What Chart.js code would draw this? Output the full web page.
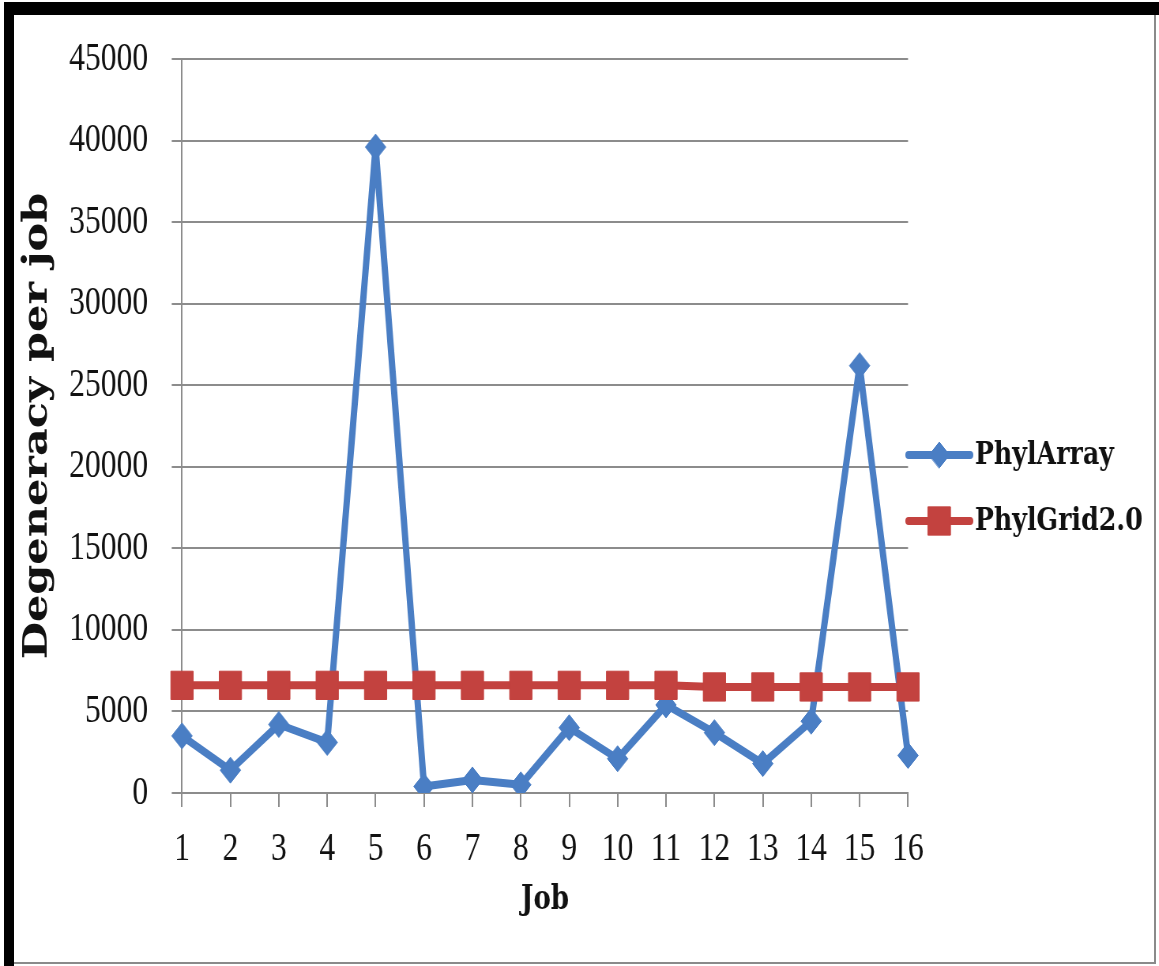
<!DOCTYPE html>
<html>
<head>
<meta charset="utf-8">
<script src="https://cdn.jsdelivr.net/npm/chart.js@4.4.1/dist/chart.umd.min.js"></script>
<style>
  html, body { margin: 0; padding: 0; background: #fff; }
  #page { position: relative; width: 1159px; height: 966px; overflow: hidden; background: #fff; }
  /* the chart is laid out wide and squeezed horizontally */
  #wrap { position: absolute; left: 0; top: 0; width: 1467px; height: 966px;
          transform: scaleX(0.79); transform-origin: 0 0; }
  .edge { position: absolute; }
</style>
</head>
<body>
<div id="page">
  <div id="wrap"><canvas id="chart"></canvas></div>
  <div class="edge" style="left:4px;top:2px;width:1155px;height:13px;background:#000"></div>
  <div class="edge" style="left:4px;top:2px;width:10px;height:964px;background:#000"></div>
  <div class="edge" style="left:1154px;top:15px;width:2px;height:949px;background:#8a8a8a"></div>
  <div class="edge" style="left:14px;top:962px;width:1142px;height:2px;background:#8a8a8a"></div>
</div>
<script>
// Jobs on the x axis
const jobs = ['1','2','3','4','5','6','7','8','9','10','11','12','13','14','15','16'];

// Degeneracy per job for each tool
const phylArray  = [3500, 1400, 4200, 3100, 39600, 400, 800, 500, 4000, 2100, 5400, 3700, 1800, 4400, 26200, 2300];
const phylGrid20 = [6600, 6600, 6600, 6600, 6600, 6600, 6600, 6600, 6600, 6600, 6600, 6500, 6500, 6500, 6500, 6500];

// y-axis tick values
const yTicks = [0, 5000, 10000, 15000, 20000, 25000, 30000, 35000, 40000, 45000];

const seriesNames = ['PhylArray', 'PhylGrid2.0'];
const blue = '#4a7ec4';
const red  = '#c3423f';
const gridGray = '#8c8c8c';

const SX = 0.79;              // horizontal squeeze of the wrapper
const plotLeft = 182 / SX;    // where the y axis sits
const plotRight = 908 / SX;   // last category
const plotTop = 59;
const plotBottom = 793;

// Legend drawn to the right of the plot
const sideLegend = {
  id: 'sideLegend',
  afterDraw(chart) {
    const ctx = chart.ctx;
    const rows = [455, 521];
    chart.data.datasets.forEach((ds, i) => {
      const y = rows[i];
      ctx.save();
      ctx.strokeStyle = ds.borderColor;
      ctx.lineWidth = ds.borderWidth;
      ctx.lineCap = 'round';
      ctx.beginPath();
      ctx.moveTo(1150, y);
      ctx.lineTo(1228, y);
      ctx.stroke();
      ctx.fillStyle = ds.pointBackgroundColor;
      ctx.strokeStyle = ds.pointBorderColor;
      ctx.lineWidth = 1;
      Chart.helpers.drawPoint(ctx, {
        pointStyle: ds.pointStyle, radius: ds.pointRadius, borderWidth: 1, rotation: 0
      }, 1189, y);
      ctx.fillStyle = '#111';
      ctx.font = 'bold 32px "DejaVu Serif"';
      ctx.textAlign = 'left';
      ctx.textBaseline = 'middle';
      ctx.fillText(ds.label, 1234, y + 1);
      ctx.restore();
    });
  }
};

new Chart(document.getElementById('chart'), {
  type: 'line',
  data: {
    labels: jobs,
    datasets: [
      {
        label: seriesNames[0],
        data: phylArray,
        borderColor: blue,
        backgroundColor: blue,
        pointBackgroundColor: blue,
        pointBorderColor: blue,
        borderWidth: 8,
        borderJoinStyle: 'round',
        borderCapStyle: 'round',
        pointStyle: 'rectRot',
        pointRadius: 13,
        pointBorderWidth: 1,
        tension: 0,
        order: 1
      },
      {
        label: seriesNames[1],
        data: phylGrid20,
        borderColor: red,
        backgroundColor: red,
        pointBackgroundColor: red,
        pointBorderColor: red,
        borderWidth: 8,
        borderJoinStyle: 'round',
        borderCapStyle: 'round',
        pointStyle: 'rect',
        pointRadius: 20,
        pointBorderWidth: 1,
        tension: 0,
        order: 0
      }
    ]
  },
  options: {
    responsive: true,
    maintainAspectRatio: false,
    animation: false,
    events: [],
    layout: { padding: { left: 0, right: 1467 - plotRight, top: plotTop, bottom: 0 } },
    plugins: {
      legend: { display: false },
      tooltip: { enabled: false }
    },
    scales: {
      x: {
        type: 'category',
        offset: false,
        afterFit(scale) { scale.height = 966 - plotBottom; },
        grid: { drawOnChartArea: false, drawTicks: true, tickLength: 14, color: gridGray, lineWidth: 2 },
        border: { display: true, color: gridGray, width: 2 },
        ticks: {
          color: '#111',
          font: { family: '"Liberation Serif"', size: 40 },
          padding: 18,
          maxRotation: 0,
          autoSkip: false
        },
        title: {
          display: true,
          text: 'Job',
          color: '#111',
          font: { family: '"DejaVu Serif"', size: 33, weight: 'bold' },
          padding: { top: 0, bottom: 46 }
        }
      },
      y: {
        min: 0,
        max: 45000,
        afterFit(scale) { scale.width = plotLeft; },
        afterBuildTicks(scale) { scale.ticks = yTicks.map(v => ({ value: v })); },
        grid: { drawTicks: true, tickLength: 13, color: gridGray, lineWidth: 2 },
        border: { display: true, color: gridGray, width: 2 },
        ticks: {
          color: '#111',
          font: { family: '"Liberation Serif"', size: 40 },
          padding: 30,
          callback: v => String(v)
        },
        title: {
          display: true,
          text: 'Degeneracy per job',
          color: '#111',
          font: { family: '"DejaVu Serif"', size: 43, weight: 'bold' },
          padding: { top: 22, bottom: 0 }
        }
      }
    }
  },
  plugins: [sideLegend]
});
</script>
</body>
</html>
